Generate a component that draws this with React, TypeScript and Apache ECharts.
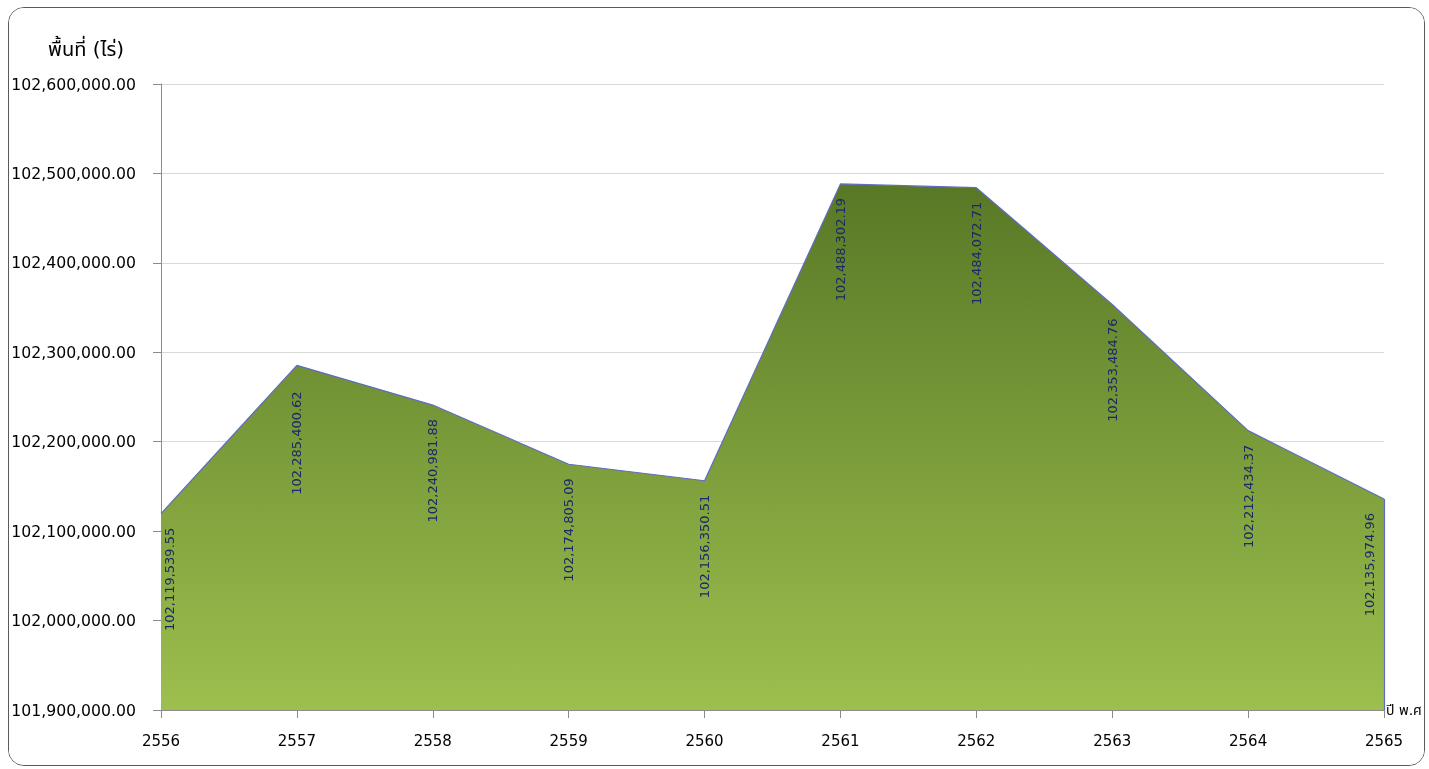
import React, { useEffect, useRef } from "react";
import * as echarts from "echarts";

const years = ["2556", "2557", "2558", "2559", "2560", "2561", "2562", "2563", "2564", "2565"];
const areaValues = [
  102119539.55, 102285400.62, 102240981.88, 102174805.09, 102156350.51,
  102488302.19, 102484072.71, 102353484.76, 102212434.37, 102135974.96,
];
const yMin = 101900000;
const yMax = 102600000;
const yStep = 100000;
const yAxisTitle = "พื้นที่ (ไร่)";
const xAxisTitle = "ปี พ.ศ";

const fmt2 = new Intl.NumberFormat("en-US", { minimumFractionDigits: 2, maximumFractionDigits: 2 });

const FONT = "'DejaVu Sans', Tahoma, Verdana, 'Noto Sans Thai', 'Noto Sans', sans-serif";

export default function App() {
  const ref = useRef<HTMLDivElement>(null);
  useEffect(() => {
    if (!ref.current) return;
    const chart = echarts.init(ref.current, undefined, { renderer: "svg" });
    const last = areaValues.length - 1;
    const data = areaValues.map((v, i) => {
      const dx = i === 0 ? 8 : i === last ? -15 : 0;
      const dy = i === 1 ? 26 : 14;
      return { value: v, label: { position: [dx, dy] } };
    });
    chart.setOption({
      animation: false,
      backgroundColor: "#ffffff",
      title: {
        text: yAxisTitle,
        left: 34,
        top: 26,
        textStyle: { fontFamily: FONT, fontSize: 20, fontWeight: "normal", color: "#000" },
      },
      grid: { left: 152, right: 40, top: 76, bottom: 55, containLabel: false, outerBoundsMode: "none" },
      xAxis: {
        type: "category",
        data: years,
        boundaryGap: false,
        name: xAxisTitle,
        nameLocation: "end",
        nameGap: 2,
        nameTextStyle: { fontFamily: FONT, fontSize: 14, color: "#000", padding: [0, 0, 14, 0] },
        axisLine: { lineStyle: { color: "#8c8c8c", width: 1 } },
        axisTick: { show: true, alignWithLabel: true, length: 8, lineStyle: { color: "#8c8c8c" } },
        axisLabel: { fontFamily: FONT, fontSize: 15, color: "#000", margin: 23 },
        splitLine: { show: false },
      },
      yAxis: {
        type: "value",
        min: yMin,
        max: yMax,
        interval: yStep,
        axisLine: { show: true, lineStyle: { color: "#8c8c8c", width: 1 } },
        axisTick: { show: true, length: 8, lineStyle: { color: "#8c8c8c" } },
        axisLabel: {
          fontFamily: FONT,
          fontSize: 15.7,
          color: "#000",
          margin: 25,
          formatter: (v: number) => fmt2.format(v),
        },
        splitLine: { show: true, lineStyle: { color: "#d9d9d9", width: 1 } },
      },
      series: [
        {
          type: "line",
          data,
          symbol: "circle",
          symbolSize: 0,
          showSymbol: true,
          itemStyle: { opacity: 0 },
          lineStyle: { color: "#5f6cbf", width: 1.2 },
          areaStyle: {
            origin: "start",
            opacity: 1,
            color: new echarts.graphic.LinearGradient(0, 0, 0, 1, [
              { offset: 0, color: "#587826" },
              { offset: 1, color: "#9dbf4e" },
            ]),
          },
          label: {
            show: true,
            rotate: 90,
            align: "right",
            verticalAlign: "middle",
            fontFamily: FONT,
            fontSize: 13,
            color: "#1a2a66",
            opacity: 1,
            formatter: (p: any) => fmt2.format(p.value),
          },
          labelLayout: { hideOverlap: false },
          markLine: {
            silent: true,
            symbol: "none",
            label: { show: false },
            lineStyle: { color: "#5f6cbf", width: 1.2, type: "solid" },
            data: [
              [
                { coord: [years[last], yMin] },
                { coord: [years[last], areaValues[last]] },
              ],
            ],
          },
        },
      ],
    });
    return () => chart.dispose();
  }, []);
  return (
    <div
      style={{
        position: "fixed",
        left: 8,
        top: 7,
        width: 1417,
        height: 759,
        boxSizing: "border-box",
        border: "1px solid #5a5a5a",
        borderRadius: 16,
        overflow: "hidden",
        background: "#fff",
      }}
    >
      <div ref={ref} style={{ width: 1415, height: 757 }} />
    </div>
  );
}
